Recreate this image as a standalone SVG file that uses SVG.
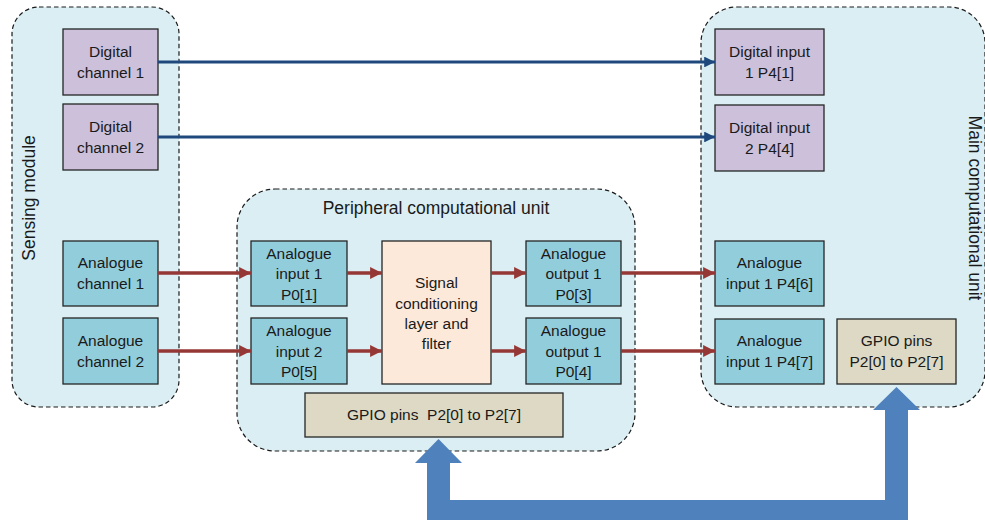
<svg xmlns="http://www.w3.org/2000/svg" width="985" height="520" viewBox="0 0 985 520">
<style>
.cont{fill:#DAEEF3;stroke:#1a1a1a;stroke-width:1.2;stroke-dasharray:4.5,3}
.box{stroke:#262626;stroke-width:1.3}
.dig{fill:#CCC0DA}
.ana{fill:#92CDDC}
.sig{fill:#FDE9D9}
.gpio{fill:#DDD9C4}
text{font-family:"Liberation Sans",Arial,sans-serif;font-size:15.5px;fill:#1a1a1a;text-anchor:middle}
.title{font-size:17.5px}
.blue{stroke:#1F497D;stroke-width:3;fill:none}
.red{stroke:#953735;stroke-width:3.5;fill:none}
</style>
<defs>
<marker id="ab" viewBox="0 0 10 10" refX="10" refY="5" markerWidth="3.6" markerHeight="3.6" orient="auto" markerUnits="strokeWidth">
<path d="M0,0 L10,5 L0,10 z" fill="#1F497D"/>
</marker>
<marker id="ar" viewBox="0 0 10 10" refX="10" refY="5" markerWidth="3.4" markerHeight="3.4" orient="auto" markerUnits="strokeWidth">
<path d="M0,0 L10,5 L0,10 z" fill="#953735"/>
</marker>
</defs>

<g id="sensing-module">
<rect class="cont" x="12" y="7" width="167" height="400" rx="27"/>
<text class="title" transform="translate(35,198) rotate(-90)">Sensing module</text>
</g>
<g id="peripheral-unit">
<rect class="cont" x="237" y="189" width="398" height="262" rx="38"/>
<text class="title" x="436" y="214">Peripheral computational unit</text>
</g>
<g id="main-unit">
<rect class="cont" x="701" y="7" width="284" height="400" rx="36"/>
<text class="title" transform="translate(969,208) rotate(90)">Main computational unit</text>
</g>

<g id="digital-channel-1">
<rect class="box dig" x="63" y="29" width="95" height="66"/>
<text x="110.5" y="56.5">Digital</text><text x="110.5" y="77.5">channel 1</text>
</g>
<g id="digital-channel-2">
<rect class="box dig" x="63" y="104" width="95" height="66"/>
<text x="110.5" y="131.5">Digital</text><text x="110.5" y="152.5">channel 2</text>
</g>
<g id="analogue-channel-1">
<rect class="box ana" x="63" y="241" width="95" height="65"/>
<text x="110.5" y="268">Analogue</text><text x="110.5" y="289">channel 1</text>
</g>
<g id="analogue-channel-2">
<rect class="box ana" x="63" y="318" width="95" height="66"/>
<text x="110.5" y="345.5">Analogue</text><text x="110.5" y="366.5">channel 2</text>
</g>

<g id="analogue-input-1-p01">
<rect class="box ana" x="251" y="241" width="96" height="65"/>
<text x="299" y="258.5">Analogue</text><text x="299" y="279">input 1</text><text x="299" y="299.5">P0[1]</text>
</g>
<g id="analogue-input-2-p05">
<rect class="box ana" x="251" y="318" width="96" height="66"/>
<text x="299" y="336">Analogue</text><text x="299" y="356.5">input 2</text><text x="299" y="377">P0[5]</text>
</g>
<g id="signal-conditioning">
<rect class="box sig" x="382" y="241" width="109" height="143"/>
<text x="436.5" y="288">Signal</text><text x="436.5" y="308.5">conditioning</text><text x="436.5" y="329">layer and</text><text x="436.5" y="349">filter</text>
</g>
<g id="analogue-output-p03">
<rect class="box ana" x="526" y="241" width="95" height="65"/>
<text x="573.5" y="258.5">Analogue</text><text x="573.5" y="279">output 1</text><text x="573.5" y="299.5">P0[3]</text>
</g>
<g id="analogue-output-p04">
<rect class="box ana" x="526" y="318" width="95" height="66"/>
<text x="573.5" y="336">Analogue</text><text x="573.5" y="356.5">output 1</text><text x="573.5" y="377">P0[4]</text>
</g>
<g id="gpio-peripheral">
<rect class="box gpio" x="305" y="393" width="258" height="44"/>
<text x="434" y="420" xml:space="preserve">GPIO pins  P2[0] to P2[7]</text>
</g>

<g id="digital-input-1">
<rect class="box dig" x="715" y="29" width="109" height="66"/>
<text x="769.5" y="56.5">Digital input</text><text x="769.5" y="77.5">1 P4[1]</text>
</g>
<g id="digital-input-2">
<rect class="box dig" x="715" y="105" width="109" height="66"/>
<text x="769.5" y="132.5">Digital input</text><text x="769.5" y="153.5">2 P4[4]</text>
</g>
<g id="analogue-input-p46">
<rect class="box ana" x="715" y="241" width="109" height="65"/>
<text x="769.5" y="268">Analogue</text><text x="769.5" y="289">input 1 P4[6]</text>
</g>
<g id="analogue-input-p47">
<rect class="box ana" x="715" y="319" width="109" height="65"/>
<text x="769.5" y="346">Analogue</text><text x="769.5" y="367">input 1 P4[7]</text>
</g>
<g id="gpio-main">
<rect class="box gpio" x="837" y="319" width="119" height="65"/>
<text x="896.5" y="346">GPIO pins</text><text x="896.5" y="367">P2[0] to P2[7]</text>
</g>

<g id="connectors">
<line class="blue" x1="158" y1="62" x2="715" y2="62" marker-end="url(#ab)"/>
<line class="blue" x1="158" y1="137" x2="715" y2="137" marker-end="url(#ab)"/>
<line class="red" x1="158" y1="273" x2="251" y2="273" marker-end="url(#ar)"/>
<line class="red" x1="158" y1="351" x2="251" y2="351" marker-end="url(#ar)"/>
<line class="red" x1="347" y1="273" x2="382" y2="273" marker-end="url(#ar)"/>
<line class="red" x1="347" y1="351" x2="382" y2="351" marker-end="url(#ar)"/>
<line class="red" x1="491" y1="273" x2="526" y2="273" marker-end="url(#ar)"/>
<line class="red" x1="491" y1="351" x2="526" y2="351" marker-end="url(#ar)"/>
<line class="red" x1="621" y1="273" x2="715" y2="273" marker-end="url(#ar)"/>
<line class="red" x1="621" y1="351" x2="715" y2="351" marker-end="url(#ar)"/>
<polygon fill="#4F81BD" points="438.5,439 462,463 450,463 450,500 885,500 885,410 873,410 896.5,387 920,410 908,410 908,521 427,521 427,463 415,463"/>
</g>
</svg>
